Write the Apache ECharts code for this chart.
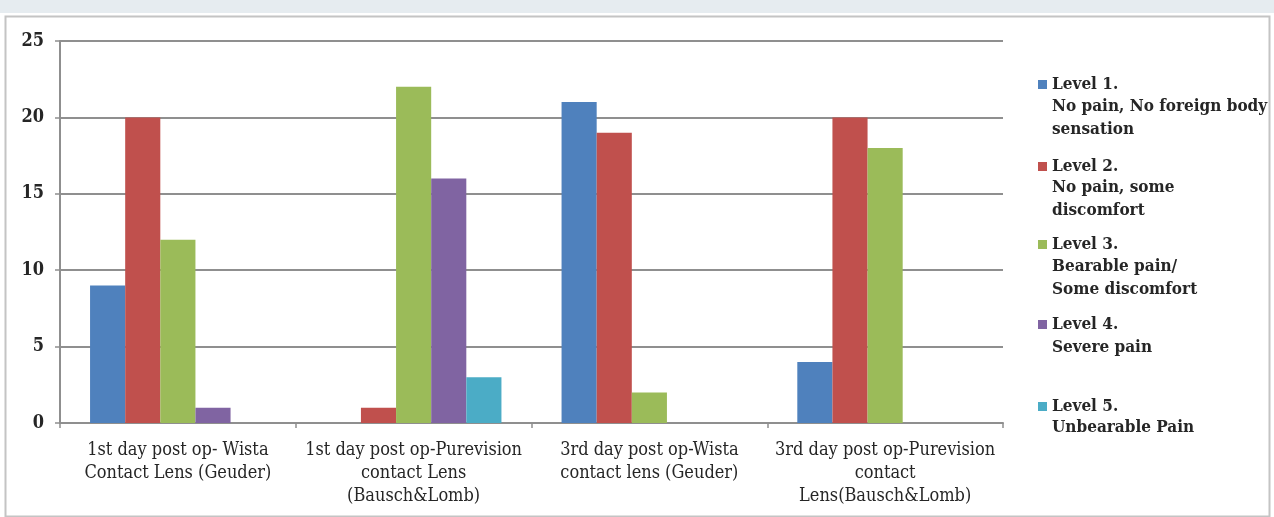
<!DOCTYPE html>
<html>
<head>
<meta charset="utf-8">
<style>
  html, body { margin: 0; padding: 0; background: #ffffff; }
  #chart { width: 1274px; height: 517px; }
</style>
<script src="https://cdn.jsdelivr.net/npm/echarts@6/dist/echarts.min.js"></script>
</head>
<body>
<div id="chart"></div>
<script>
// Post-operative pain levels per lens group
const categories = [
  '1st day post op- Wista\nContact Lens (Geuder)',
  '1st day post op-Purevision\ncontact Lens\n(Bausch&Lomb)',
  '3rd day post op-Wista\ncontact lens (Geuder)',
  '3rd day post op-Purevision\ncontact\nLens(Bausch&Lomb)'
];
const levelNames = ['Level 1.', 'Level 2.', 'Level 3.', 'Level 4.', 'Level 5.'];
const levelDescriptions = [
  'No pain, No foreign body\nsensation',
  'No pain, some\ndiscomfort',
  'Bearable pain/\nSome discomfort',
  'Severe pain',
  'Unbearable Pain'
];
const level1 = [9, 0, 21, 4];
const level2 = [20, 1, 19, 20];
const level3 = [12, 22, 2, 18];
const level4 = [1, 16, 0, 0];
const level5 = [0, 3, 0, 0];
const yTicks = [0, 5, 10, 15, 20, 25];

const seriesValues = [level1, level2, level3, level4, level5];
const colors = ['#4F81BD', '#C0504D', '#9BBB59', '#8064A2', '#4BACC6'];
const FONT = '"DejaVu Serif Condensed", "DejaVu Serif", serif';
const TEXT_COLOR = '#262626';

// vertical centre of each legend heading ("Level N.") and of its first description line
const legendRowY = [85, 167, 245, 325, 407];
const descRowY = [107, 188, 267, 348, 428];

const chart = echarts.init(document.getElementById('chart'), null, { renderer: 'canvas' });

const legends = levelNames.map((name, i) => ({
  data: [name],
  left: 1033,
  top: legendRowY[i] - 14,
  orient: 'vertical',
  icon: 'rect',
  itemWidth: 9,
  itemHeight: 9,
  itemGap: 4,
  textStyle: { fontFamily: FONT, fontSize: 17, fontWeight: 'bold', color: TEXT_COLOR },
  selectedMode: false
}));

const descGraphics = levelDescriptions.map((txt, i) => ({
  type: 'text',
  left: 1052,
  top: descRowY[i] - 11.5,
  style: {
    text: txt,
    fontFamily: FONT,
    fontSize: 17,
    fontWeight: 'bold',
    lineHeight: 23,
    fill: TEXT_COLOR
  }
}));

chart.setOption({
  backgroundColor: '#ffffff',
  animation: false,
  color: colors,
  graphic: [
    { type: 'rect', left: 0, top: 0, shape: { width: 1274, height: 13 }, style: { fill: '#e6ecf0' }, silent: true },
    { type: 'rect', left: 3, top: 14, shape: { width: 1264, height: 500 }, style: { fill: 'none', stroke: '#c4c4c4', lineWidth: 2 }, silent: true }
  ].concat(descGraphics),
  legend: legends,
  grid: { left: 60, right: 271, top: 41, bottom: 94, containLabel: false },
  xAxis: {
    type: 'category',
    data: categories,
    axisLine: { lineStyle: { color: '#8f8f8f', width: 2 } },
    axisTick: { show: true, length: 5, lineStyle: { color: '#8f8f8f', width: 1.5 } },
    axisLabel: {
      fontFamily: FONT, fontSize: 18, color: TEXT_COLOR, lineHeight: 23, margin: 16,
      interval: 0
    }
  },
  yAxis: {
    type: 'value',
    min: 0,
    max: 25,
    interval: 5,
    axisLine: { show: true, lineStyle: { color: '#8f8f8f', width: 2 } },
    axisTick: { show: true, length: 5, lineStyle: { color: '#8f8f8f', width: 1.5 } },
    splitLine: { lineStyle: { color: '#8f8f8f', width: 2 } },
    axisLabel: {
      fontFamily: FONT, fontSize: 18, fontWeight: 'bold', color: TEXT_COLOR, margin: 16,
      formatter: (v) => (yTicks.includes(v) ? String(v) : '')
    }
  },
  series: seriesValues.map((vals, i) => ({
    name: levelNames[i],
    type: 'bar',
    data: vals,
    barGap: '0%',
    barCategoryGap: '25.5%',
    itemStyle: { color: colors[i] }
  }))
});
</script>
</body>
</html>
